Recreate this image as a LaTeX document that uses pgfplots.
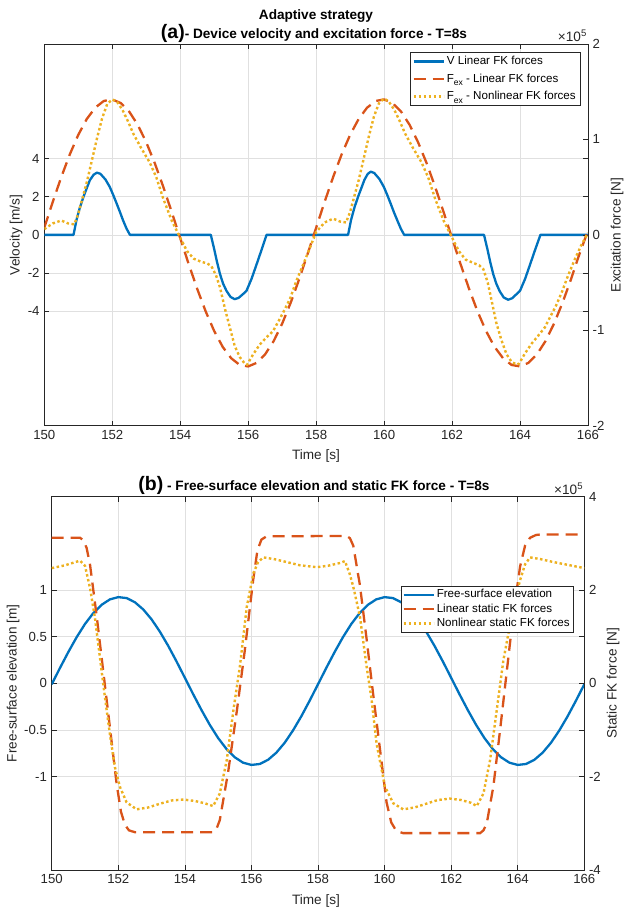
\documentclass[border=0pt]{standalone}
\usepackage{pgfplots}
\usepackage{pgfplotstable}
\pgfplotsset{compat=1.18}
\usepackage{fontspec}
\setmainfont{Liberation Sans}
\definecolor{mblue}{rgb}{0,0.447,0.741}
\definecolor{mred}{rgb}{0.850,0.325,0.098}
\definecolor{myel}{rgb}{0.929,0.694,0.125}
\definecolor{axc}{rgb}{0.15,0.15,0.15}
\definecolor{gridc}{rgb}{0.88,0.88,0.88}
\newcommand{\sub}[1]{\raisebox{-3.5pt}{\fontsize{8.5}{9}\selectfont #1}}
\pgfplotsset{
  base/.style={
    scale only axis,
    xmin=150,xmax=166,
    xtick={150,152,...,166},
    xticklabels={150,152,154,156,158,160,162,164,166},
    tick align=inside,
    major tick length=5pt,
    tick label style={font=\fontsize{13.2}{15}\selectfont, text=axc},
    axis line style={axc, line width=0.6pt},
    tick style={axc, line width=0.6pt},
    grid style={gridc, line width=0.6pt},
  },
  blueline/.style={mblue, line width=2.3pt, line join=round},
  redline/.style={mred, line width=2.3pt, dash pattern=on 12pt off 7pt},
  yelline/.style={myel, line width=2.4pt, dash pattern=on 2.5pt off 2.5pt},
  leg/.style={
    legend cell align=left,
    legend style={draw=axc, line width=0.5pt, fill=white, font=\fontsize{11.6}{13.5}\selectfont,
      inner sep=1.5pt, row sep=0pt},
    legend image code/.code={\draw[##1] (0pt,0pt) -- (30pt,0pt);},
  },
}
\begin{document}
\pgfplotstableread{
t v
150.00 0
150.86 0
150.95 0.80
151.05 1.45
151.15 1.98
151.25 2.45
151.34 2.86
151.45 3.15
151.55 3.26
151.65 3.20
151.80 2.90
151.93 2.50
152.03 2.08
152.13 1.64
152.23 1.18
152.32 0.75
152.42 0.33
152.52 0
154.90 0
155.00 -0.75
155.08 -1.40
155.17 -2.05
155.26 -2.55
155.36 -2.93
155.48 -3.25
155.60 -3.37
155.72 -3.30
155.85 -3.10
155.95 -2.93
156.10 -2.30
156.25 -1.53
156.40 -0.75
156.54 0
158.94 0
159.03 0.80
159.13 1.45
159.23 1.98
159.33 2.45
159.42 2.88
159.52 3.20
159.61 3.31
159.71 3.24
159.86 2.93
159.99 2.52
160.09 2.10
160.19 1.65
160.29 1.18
160.39 0.75
160.49 0.33
160.59 0
162.94 0
163.04 -0.75
163.12 -1.40
163.21 -2.05
163.30 -2.55
163.40 -2.95
163.52 -3.28
163.65 -3.40
163.77 -3.32
163.90 -3.10
164.00 -2.93
164.15 -2.30
164.30 -1.53
164.45 -0.75
164.60 0
166.00 0
}\velA
\pgfplotstableread{
t v
150.00 0.075
150.25 0.347
150.50 0.606
150.75 0.843
151.00 1.048
151.25 1.214
151.50 1.333
151.75 1.403
152.00 1.419
152.25 1.381
152.50 1.291
152.75 1.153
153.00 0.970
153.25 0.752
153.50 0.505
153.75 0.239
154.00 -0.035
154.25 -0.307
154.50 -0.566
154.75 -0.803
155.00 -1.008
155.25 -1.174
155.50 -1.293
155.75 -1.363
156.00 -1.379
156.25 -1.341
156.50 -1.251
156.75 -1.113
157.00 -0.930
157.25 -0.712
157.50 -0.465
157.75 -0.199
158.00 0.075
158.25 0.347
158.50 0.606
158.75 0.843
159.00 1.048
159.25 1.214
159.50 1.333
159.75 1.403
160.00 1.419
160.25 1.381
160.50 1.291
160.75 1.153
161.00 0.970
161.25 0.752
161.50 0.505
161.75 0.239
162.00 -0.035
162.25 -0.307
162.50 -0.566
162.75 -0.803
163.00 -1.008
163.25 -1.174
163.50 -1.293
163.75 -1.363
164.00 -1.379
164.25 -1.341
164.50 -1.251
164.75 -1.113
165.00 -0.930
165.25 -0.712
165.50 -0.465
165.75 -0.199
166.00 0.045
}\fexLin
\pgfplotstableread{
t v
150.00 0.06
150.25 0.12
150.50 0.15
150.70 0.12
150.88 0.11
151.00 0.22
151.12 0.38
151.25 0.55
151.40 0.78
151.55 1.01
151.70 1.22
151.85 1.37
152.00 1.42
152.15 1.39
152.30 1.31
152.45 1.20
152.62 1.06
152.85 0.91
153.10 0.76
153.30 0.60
153.50 0.38
153.75 0.15
154.00 -0.03
154.20 -0.17
154.40 -0.25
154.60 -0.28
154.80 -0.30
154.92 -0.33
155.05 -0.42
155.17 -0.55
155.32 -0.78
155.46 -0.97
155.60 -1.16
155.75 -1.28
155.90 -1.35
155.97 -1.36
156.15 -1.25
156.34 -1.15
156.55 -1.07
156.73 -1.01
156.90 -0.90
157.05 -0.80
157.23 -0.67
157.42 -0.48
157.62 -0.31
157.80 -0.15
158.00 0.03
158.25 0.13
158.50 0.17
158.70 0.14
158.88 0.13
159.00 0.24
159.12 0.40
159.25 0.57
159.40 0.80
159.55 1.03
159.70 1.24
159.85 1.38
160.00 1.43
160.15 1.39
160.30 1.31
160.45 1.20
160.62 1.06
160.85 0.91
161.10 0.76
161.30 0.60
161.50 0.38
161.75 0.15
162.00 -0.03
162.20 -0.17
162.40 -0.26
162.60 -0.29
162.80 -0.32
162.92 -0.36
163.05 -0.50
163.17 -0.70
163.30 -0.92
163.45 -1.10
163.60 -1.25
163.75 -1.33
163.90 -1.36
163.97 -1.35
164.15 -1.24
164.34 -1.14
164.55 -1.05
164.73 -0.97
164.90 -0.85
165.05 -0.75
165.23 -0.60
165.42 -0.42
165.62 -0.25
165.80 -0.11
166.00 0.02
}\fexNl
\pgfplotstableread{
t v
150.00 -0.010
150.25 0.166
150.50 0.336
150.75 0.495
151.00 0.636
151.25 0.753
151.50 0.842
151.75 0.900
152.00 0.924
152.25 0.914
152.50 0.869
152.75 0.792
153.00 0.686
153.25 0.554
153.50 0.402
153.75 0.235
154.00 0.060
154.25 -0.116
154.50 -0.286
154.75 -0.445
155.00 -0.586
155.25 -0.703
155.50 -0.792
155.75 -0.850
156.00 -0.874
156.25 -0.864
156.50 -0.819
156.75 -0.742
157.00 -0.636
157.25 -0.504
157.50 -0.352
157.75 -0.185
158.00 -0.010
158.25 0.166
158.50 0.336
158.75 0.495
159.00 0.636
159.25 0.753
159.50 0.842
159.75 0.900
160.00 0.924
160.25 0.914
160.50 0.869
160.75 0.792
161.00 0.686
161.25 0.554
161.50 0.402
161.75 0.235
162.00 0.060
162.25 -0.116
162.50 -0.286
162.75 -0.445
163.00 -0.586
163.25 -0.703
163.50 -0.792
163.75 -0.850
164.00 -0.874
164.25 -0.864
164.50 -0.819
164.75 -0.742
165.00 -0.636
165.25 -0.504
165.50 -0.352
165.75 -0.185
166.00 -0.010
}\eta
\pgfplotstableread{
t v
150.00 3.12
150.85 3.12
150.95 3.07
151.05 2.90
151.15 2.55
151.35 1.45
151.55 0.25
151.75 -0.95
151.95 -2.15
152.08 -2.75
152.20 -3.03
152.32 -3.15
152.50 -3.19
154.85 -3.19
154.95 -3.12
155.05 -2.93
155.30 -1.90
155.56 -0.60
155.80 0.70
156.05 2.20
156.18 2.85
156.30 3.08
156.45 3.15
158.86 3.16
158.96 3.11
159.06 2.95
159.26 2.10
159.46 0.95
159.66 -0.25
159.86 -1.40
160.06 -2.55
160.20 -2.98
160.35 -3.16
160.56 -3.21
162.87 -3.21
162.97 -3.15
163.07 -3.00
163.27 -2.20
163.47 -1.00
163.67 0.25
163.87 1.50
164.07 2.50
164.22 2.95
164.37 3.12
164.55 3.18
164.67 3.19
166.00 3.19
}\stLin
\pgfplotstableread{
t v
150.00 2.47
150.40 2.53
150.85 2.63
151.00 2.52
151.15 2.05
151.30 1.40
151.45 0.55
151.60 -0.30
151.75 -1.10
151.90 -1.80
152.05 -2.22
152.25 -2.55
152.55 -2.70
152.90 -2.66
153.25 -2.58
153.60 -2.51
153.95 -2.49
154.30 -2.52
154.60 -2.57
154.85 -2.63
155.05 -2.36
155.26 -1.64
155.46 -0.57
155.66 0.40
155.86 1.64
156.06 2.36
156.20 2.60
156.36 2.70
156.70 2.66
157.06 2.60
157.46 2.53
157.96 2.49
158.30 2.52
158.66 2.58
158.81 2.62
158.95 2.35
159.06 2.07
159.26 1.43
159.46 0.36
159.61 -0.35
159.76 -1.29
160.01 -2.21
160.26 -2.57
160.56 -2.70
160.90 -2.66
161.25 -2.58
161.60 -2.50
161.96 -2.47
162.30 -2.50
162.60 -2.56
162.77 -2.63
162.97 -2.36
163.17 -1.64
163.37 -0.57
163.57 0.50
163.87 1.64
164.07 2.21
164.22 2.55
164.37 2.70
164.70 2.66
165.07 2.60
165.50 2.54
166.00 2.47
}\stNl
\begin{tikzpicture}
\path[use as bounding box] (0pt,0pt) rectangle (625pt,-913pt);
\fontsize{13.6}{16}\selectfont
% ---------- panel (a)
\begin{axis}[base, at={(44.3pt,-425.7pt)}, anchor=south west,
  width=543.7pt, height=381.7pt,
  ymin=-10, ymax=10, ytick={-4,-2,0,2,4}, yticklabels={-4,-2,0,2,4},
  grid=major]
\addplot[blueline] table[x=t,y=v]{\velA};
\end{axis}
\begin{axis}[base, leg, at={(44.3pt,-425.7pt)}, anchor=south west,
  width=543.7pt, height=381.7pt,
  axis x line=none, axis y line*=right,
  ymin=-2, ymax=2, ytick={-2,-1,0,1,2}, yticklabels={-2,-1,0,1,2},
  legend style={at={(0.9853,0.979)}, anchor=north east, row sep=3pt, inner sep=2pt}]
\addlegendimage{blueline}
\addlegendentry{V Linear FK forces}
\addplot[redline] table[x=t,y=v]{\fexLin};
\addlegendentry{F\sub{ex} - Linear FK forces}
\addplot[yelline] table[x=t,y=v]{\fexNl};
\addlegendentry{F\sub{ex} - Nonlinear FK forces}
\end{axis}
\node[font=\bfseries\fontsize{13.6}{16}\selectfont] at (316pt,-16pt) {Adaptive strategy};
\node[font=\bfseries\fontsize{13.6}{16}\selectfont] at (314pt,-33pt) {{\fontsize{19.5}{21}\selectfont (a)}- Device velocity and excitation force - T=8s};
\node[anchor=south east, inner sep=1pt, text=axc] at (588pt,-43pt) {×10\textsuperscript{5}};
\node[rotate=90, text=axc] at (16pt,-235pt) {Velocity [m/s]};
\node[rotate=90, text=axc] at (617pt,-235pt) {Excitation force [N]};
\node[text=axc] at (316pt,-456pt) {Time [s]};
% ---------- panel (b)
\begin{axis}[base, at={(51.7pt,-870pt)}, anchor=south west,
  width=532.6pt, height=373.3pt,
  ymin=-2, ymax=2, ytick={-1,-0.5,0,0.5,1}, yticklabels={-1,-0.5,0,0.5,1},
  grid=major]
\addplot[blueline] table[x=t,y=v]{\eta};
\end{axis}
\begin{axis}[base, leg, at={(51.7pt,-870pt)}, anchor=south west,
  width=532.6pt, height=373.3pt,
  axis x line=none, axis y line*=right,
  ymin=-4, ymax=4, ytick={-4,-2,0,2,4}, yticklabels={-4,-2,0,2,4},
  legend style={at={(0.9794,0.7616)}, anchor=north east}]
\addlegendimage{blueline}
\addlegendentry{Free-surface elevation}
\addplot[redline] table[x=t,y=v]{\stLin};
\addlegendentry{Linear static FK forces}
\addplot[yelline] table[x=t,y=v]{\stNl};
\addlegendentry{Nonlinear static FK forces}
\end{axis}
\node[font=\bfseries\fontsize{13.6}{16}\selectfont] at (314pt,-485pt) {{\fontsize{19.5}{21}\selectfont (b)} - Free-surface elevation and static FK force - T=8s};
\node[anchor=south east, inner sep=1pt, text=axc] at (584.3pt,-496pt) {×10\textsuperscript{5}};
\node[rotate=90, text=axc] at (13pt,-683.3pt) {Free-surface elevation [m]};
\node[rotate=90, text=axc] at (613pt,-683.3pt) {Static FK force [N]};
\node[text=axc] at (316pt,-901pt) {Time [s]};
\end{tikzpicture}
\end{document}
